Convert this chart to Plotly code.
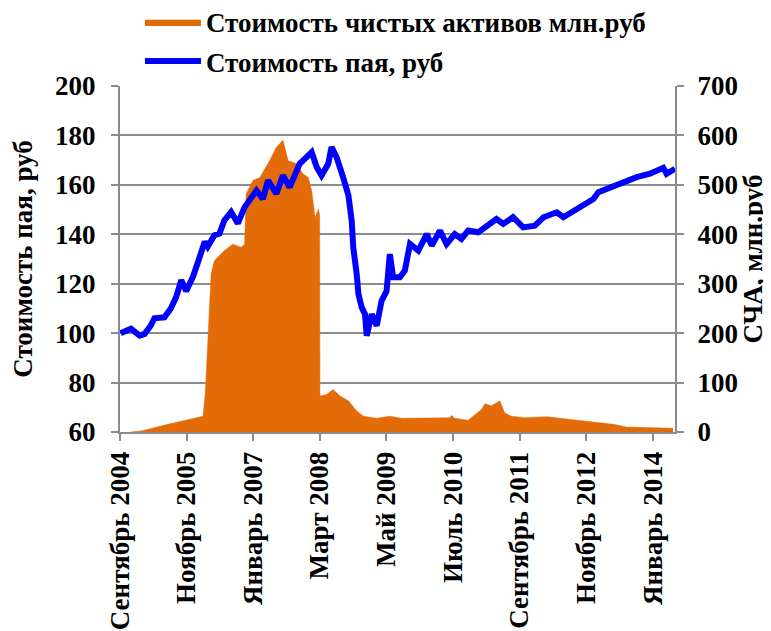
import plotly.graph_objects as go

# ---- data ----
nav_dates = ["2004-09-05","2004-11-10","2005-01-05","2005-02-06","2005-03-16","2005-04-09",
             "2005-06-12","2005-07-23","2005-08-26","2005-09-28","2005-10-29","2005-12-11",
             "2006-01-13","2006-02-25","2006-03-16","2006-04-28","2006-05-30","2006-07-01",
             "2006-08-13","2006-09-25","2006-11-07","2006-12-19","2007-01-22","2007-03-04",
             "2007-04-06","2007-05-29","2007-07-10","2007-08-22","2007-10-25","2008-01-10",
             "2008-02-11","2008-03-13","2008-04-25","2008-05-16","2008-06-17","2008-07-29",
             "2008-09-01","2008-09-22","2008-10-02","2008-10-24","2008-11-04","2008-11-25",
             "2008-12-16","2008-12-27","2009-01-28","2009-03-01","2009-04-01","2009-05-03",
             "2009-05-24","2009-06-14","2009-07-27","2009-08-28","2009-09-30","2009-11-22",
             "2010-01-15","2010-02-16","2010-04-09","2010-05-22","2010-07-13","2010-08-25",
             "2010-10-07","2010-12-10","2011-01-22","2011-04-06","2011-05-19","2011-07-21",
             "2011-09-24","2011-12-07","2012-02-01","2012-04-25","2012-06-07","2012-08-10",
             "2012-10-13","2012-12-16","2013-01-17","2013-04-01","2013-06-25","2013-09-19",
             "2013-12-13","2014-02-06","2014-03-08","2014-03-29","2014-05-22"]
unit_price = [100, 101.8, 99, 99.7, 103, 106,
              106.4, 110, 114.6, 121.4, 117, 122.7,
              128.8, 137, 135, 139.6, 140.3, 145.7,
              149, 144.4, 151, 155, 157.7, 154.3,
              161.8, 156.4, 163.8, 159, 168.5, 173.2,
              167.2, 163.8, 168.5, 175.3, 171.2, 163.1,
              155.7, 145.5, 134.7, 123.9, 115.8, 110.4,
              107.7, 98.9, 107.7, 103, 113, 117,
              132, 122.6, 122.6, 125.3, 136.1, 133.4,
              140.1, 135.4, 141.5, 136.1, 140.1, 138.1,
              141.5, 140.8, 142.8, 146.2, 144.2, 146.9,
              142.8, 143.5, 146.9, 148.9, 146.9, 149.6,
              152, 154.3, 157, 159, 161, 163.1,
              164.5, 166.5, 166.9, 164.5, 166.5]

sca_dates = ["2004-11-10","2005-01-15","2005-07-04","2005-10-19","2006-02-14","2006-02-28",
             "2006-03-16","2006-04-07","2006-04-28","2006-07-01","2006-08-23","2006-10-16",
             "2006-11-07","2006-11-17","2006-12-30","2007-02-13","2007-04-16","2007-05-29",
             "2007-07-10","2007-08-13","2007-10-04","2007-11-16","2007-12-19","2008-01-10",
             "2008-02-01","2008-02-22","2008-03-01","2008-03-03","2008-04-15","2008-05-26",
             "2008-07-09","2008-09-01","2008-10-24","2008-12-06","2009-03-01","2009-05-24",
             "2009-08-07","2010-03-08","2010-06-13","2010-06-22","2010-07-13","2010-10-07",
             "2010-11-09","2011-01-01","2011-01-22","2011-03-05","2011-04-28","2011-05-28",
             "2011-07-10","2011-10-04","2012-02-22","2012-06-07","2012-09-22","2013-01-07",
             "2013-04-22","2013-07-16","2013-11-22","2014-05-10"]
net_assets = [0, 2, 15.5, 23.6, 32, 76,
              171, 320, 347, 367, 380, 374,
              380, 482, 509, 515, 549, 576,
              590, 549, 543, 522, 515, 488,
              434, 451, 440, 73, 76, 86,
              73, 63, 42.6, 32, 27.7, 32,
              27.7, 27.7, 29, 34, 27.7, 23.6,
              32, 46, 57, 53, 63, 39,
              32, 29, 31, 27, 23.6, 19,
              15.5, 10, 8.8, 7.4]

tick_dates = ["2004-09-01","2005-11-01","2007-01-01","2008-03-01","2009-05-01",
              "2010-07-01","2011-09-01","2012-11-01","2014-01-01"]
tick_labels = ["Сентябрь 2004","Ноябрь 2005","Январь 2007","Март 2008","Май 2009",
               "Июль 2010","Сентябрь 2011","Ноябрь 2012","Январь 2014"]
left_ticks = [60, 80, 100, 120, 140, 160, 180, 200]
right_ticks = [0, 100, 200, 300, 400, 500, 600, 700]

FONT = "Liberation Serif"
GRID = "#8c8c8c"
ORANGE = "#E36C09"
BLUE = "#0000FF"
FS = 27

def b(s):
    return "<b>" + str(s) + "</b>"

fig = go.Figure()
fig.add_trace(go.Scatter(
    x=sca_dates, y=net_assets, name=b("Стоимость чистых активов млн.руб"),
    mode="lines", fill="tozeroy", fillcolor=ORANGE,
    line=dict(color=ORANGE, width=0.5), yaxis="y", legend="legend"))
fig.add_trace(go.Scatter(
    x=nav_dates, y=unit_price, name=b("Стоимость пая, руб"),
    mode="lines", line=dict(color=BLUE, width=6), yaxis="y2", legend="legend2"))

tf = dict(family=FONT, size=FS, color="black")
leg_common = dict(x=0.036, xanchor="left", yanchor="middle", font=tf,
                  bgcolor="rgba(0,0,0,0)", itemwidth=56)
fig.update_layout(
    width=771, height=631,
    margin=dict(l=112, r=104, t=78, b=207, autoexpand=False),
    paper_bgcolor="white", plot_bgcolor="white",
    font=tf,
    showlegend=True,
    legend=dict(y=1.184, **leg_common),
    legend2=dict(y=1.071, **leg_common),
    xaxis=dict(type="date", range=["2004-09-01", "2014-05-22"],
               tickvals=tick_dates, ticktext=[b(t) for t in tick_labels], tickangle=-90,
               tickfont=tf, automargin=False,
               showgrid=False, showline=True, linecolor=GRID, linewidth=2,
               ticks="outside", ticklen=7, tickcolor=GRID, tickwidth=2, zeroline=False),
    yaxis=dict(side="right", range=[0, 700], tickvals=right_ticks,
               ticktext=[b(t) for t in right_ticks], automargin=False,
               ticklabelstandoff=8,
               title=dict(text=b("СЧА, млн.руб"), font=tf, standoff=0),
               tickfont=tf,
               showgrid=True, gridcolor=GRID, gridwidth=2,
               showline=True, linecolor=GRID, linewidth=2,
               ticks="outside", ticklen=7, tickcolor=GRID, tickwidth=2, zeroline=False),
    yaxis2=dict(side="left", overlaying="y", range=[60, 200], tickvals=left_ticks,
                ticktext=[b(t) for t in left_ticks], automargin=False,
                ticklabelstandoff=10,
                title=dict(text=b("Стоимость пая, руб"), font=tf, standoff=20),
                tickfont=tf,
                showgrid=False, showline=True, linecolor=GRID, linewidth=2,
                ticks="outside", ticklen=7, tickcolor=GRID, tickwidth=2, zeroline=False),
)

fig.write_html("out.html")
